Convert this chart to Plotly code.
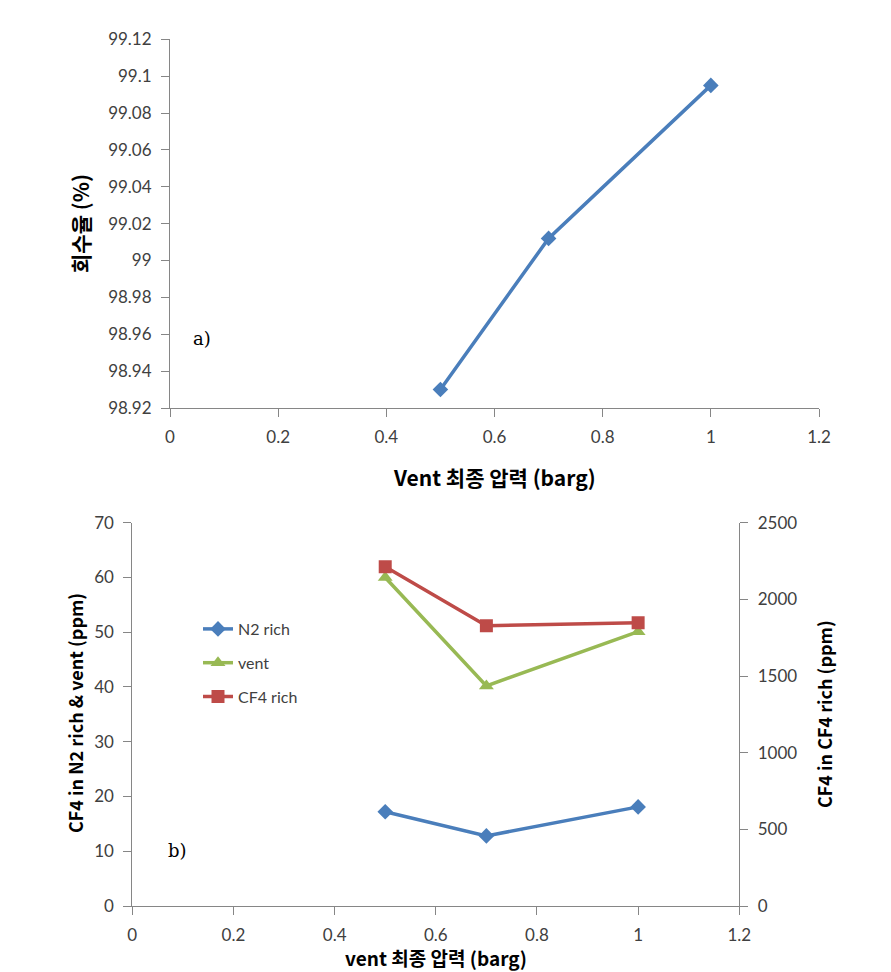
import plotly.graph_objects as go

# ---- data ----
x_a = [0.5, 0.7, 1.0]
recovery = [98.930, 99.012, 99.095]

x_b = [0.5, 0.7, 1.0]
n2_rich = [17.2, 12.8, 18.1]
vent = [60.0, 40.2, 50.1]
cf4_rich = [2212, 1828, 1848]

BLUE = "#4a7ebb"
GREEN = "#98b954"
RED = "#be4b48"
AX = "#868686"
TICKC = "#404040"
FONT = "Lato, Noto Sans CJK KR, sans-serif"
KFONT = "Noto Sans CJK KR, Lato, sans-serif"

W, H = 891, 972
def px(x): return x / W
def py(y): return 1 - y / H

fig = go.Figure()

fig.add_trace(go.Scatter(x=x_a, y=recovery, mode="lines+markers",
                         line=dict(color=BLUE, width=3.5),
                         marker=dict(symbol="diamond", size=12, color=BLUE),
                         xaxis="x", yaxis="y", showlegend=False))

fig.add_trace(go.Scatter(x=x_b, y=n2_rich, name="N2 rich", mode="lines+markers",
                         line=dict(color=BLUE, width=3.5),
                         marker=dict(symbol="diamond", size=12, color=BLUE),
                         xaxis="x2", yaxis="y2", legendgroup="a"))
fig.add_trace(go.Scatter(x=x_b, y=vent, name="vent", mode="lines+markers",
                         line=dict(color=GREEN, width=3.5),
                         marker=dict(symbol="triangle-up", size=13, color=GREEN),
                         xaxis="x2", yaxis="y2", legendgroup="b"))
fig.add_trace(go.Scatter(x=x_b, y=cf4_rich, name="CF4 rich", mode="lines+markers",
                         line=dict(color=RED, width=3.5),
                         marker=dict(symbol="square", size=13, color=RED),
                         xaxis="x2", yaxis="y3", legendgroup="c"))

axcommon = dict(showgrid=False, zeroline=False, showline=True, linecolor=AX, linewidth=1,
                ticks="outside", tickcolor=AX, ticklen=8, automargin=False,
                ticklabelstandoff=6,
                tickfont=dict(family=FONT, size=17, color=TICKC))

fig.update_layout(
    width=W, height=H, margin=dict(l=0, r=0, t=0, b=0, autoexpand=False),
    paper_bgcolor="white", plot_bgcolor="white",
    xaxis=dict(domain=[px(170), px(819)], range=[0, 1.2], dtick=0.2, anchor="y",
               tickformat="~g", **axcommon),
    yaxis=dict(domain=[py(408), py(39.3)], range=[98.92, 99.12], dtick=0.02, anchor="x",
               tickformat="~g", **axcommon),
    xaxis2=dict(domain=[px(132.3), px(739.3)], range=[0, 1.2], dtick=0.2, anchor="y2",
                tickformat="~g", **axcommon),
    yaxis2=dict(domain=[py(906), py(522.7)], range=[0, 70], dtick=10, anchor="x2", **axcommon),
    yaxis3=dict(range=[0, 2500], dtick=500, overlaying="y2", side="right", anchor="x2",
                **axcommon),
    legend=dict(x=px(198), y=py(612), xanchor="left", yanchor="top",
                bgcolor="rgba(0,0,0,0)", traceorder="grouped", tracegroupgap=10,
                font=dict(family=FONT, size=16, color=TICKC)),
    showlegend=True,
)

ann = [
    dict(text="<b>Vent 최종 압력 (barg)</b>", x=px(494), y=py(477), font=dict(family=KFONT, size=21, color="black")),
    dict(text="<b>회수율 (%)</b>", x=px(80), y=py(224), textangle=-90, font=dict(family=KFONT, size=21, color="black")),
    dict(text="a)", x=px(202), y=py(338), font=dict(family="DejaVu Serif", size=18, color="black")),
    dict(text="<b>vent 최종 압력 (barg)</b>", x=px(436), y=py(957), font=dict(family=KFONT, size=19, color="black")),
    dict(text="<b>CF4 in N2 rich &amp; vent (ppm)</b>", x=px(75), y=py(713), textangle=-90, font=dict(family=KFONT, size=18, color="black")),
    dict(text="<b>CF4 in CF4 rich (ppm)</b>", x=px(824), y=py(714), textangle=-90, font=dict(family=KFONT, size=18, color="black")),
    dict(text="b)", x=px(177), y=py(850), font=dict(family="DejaVu Serif", size=18, color="black")),
]
for a in ann:
    a.update(xref="paper", yref="paper", showarrow=False, xanchor="center", yanchor="middle")
fig.update_layout(annotations=ann)

fig.write_html("out.html")
